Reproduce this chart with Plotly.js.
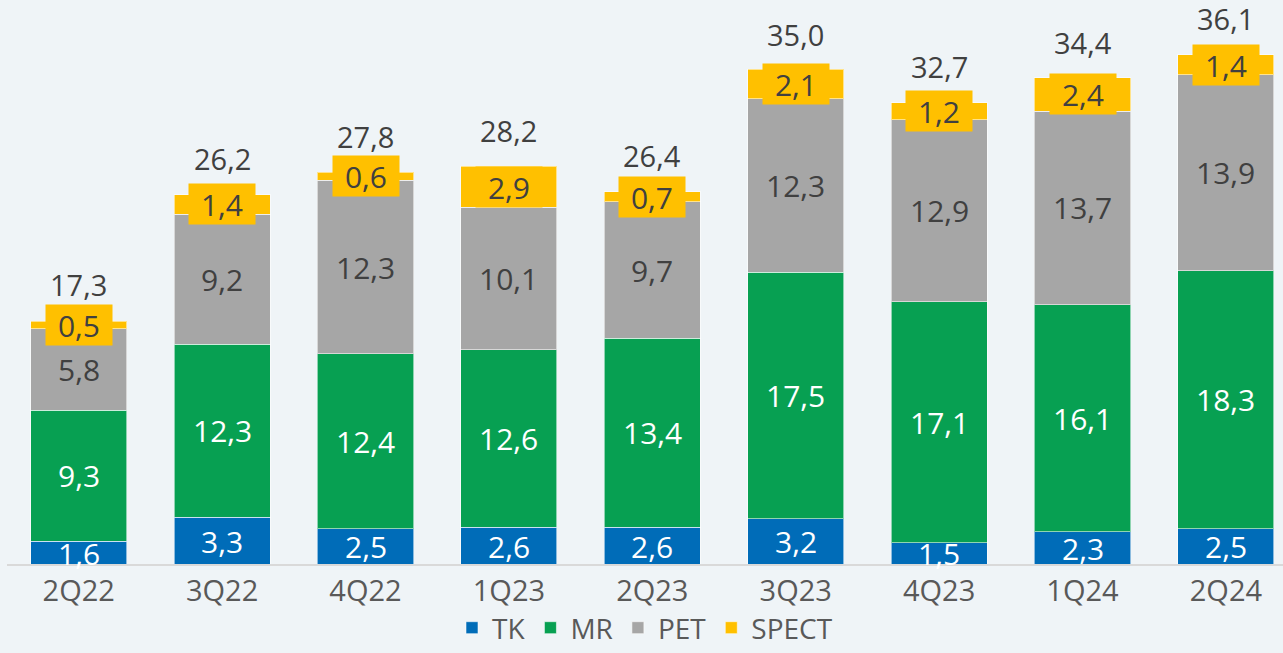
<!DOCTYPE html>
<html>
<head>
<meta charset="utf-8">
<script src="https://cdn.plot.ly/plotly-3.0.1.min.js"></script>
<style>
html,body{margin:0;padding:0;background:#eff4f7;}
#chart{width:1283px;height:653px;}
</style>
</head>
<body>
<div id="chart"></div>
<script>
const categories = ['2Q22','3Q22','4Q22','1Q23','2Q23','3Q23','4Q23','1Q24','2Q24'];
const TK    = [1.6, 3.3, 2.5, 2.6, 2.6, 3.2, 1.5, 2.3, 2.5];
const MR    = [9.3, 12.3, 12.4, 12.6, 13.4, 17.5, 17.1, 16.1, 18.3];
const PET   = [5.8, 9.2, 12.3, 10.1, 9.7, 12.3, 12.9, 13.7, 13.9];
const SPECT = [0.5, 1.4, 0.6, 2.9, 0.7, 2.1, 1.2, 2.4, 1.4];
const totals = [17.3, 26.2, 27.8, 28.2, 26.4, 35.0, 32.7, 34.4, 36.1];

const seriesNames = ['TK','MR','PET','SPECT'];
const seriesVals = [TK, MR, PET, SPECT];
const colors = ['#006cb8','#07a052','#a6a6a6','#ffc000'];
const labelColors = ['#ffffff','#ffffff','#404040','#404040'];
const FONT = 'Open Sans, sans-serif';
const fmt = v => v.toFixed(1).replace('.', ',');

const traces = seriesVals.map((vals, i) => ({
  type: 'bar',
  name: seriesNames[i],
  x: categories,
  y: vals,
  marker: {color: colors[i], line: {color: 'rgba(255,255,255,0.55)', width: 1}},
  hoverinfo: 'skip'
}));

const annotations = [];
categories.forEach((c, j) => {
  let base = 0;
  seriesVals.forEach((vals, i) => {
    const v = vals[j];
    const mid = base + v / 2;
    const a = {
      x: c, y: mid, xref: 'x', yref: 'y',
      text: fmt(v), showarrow: false,
      font: {family: FONT, size: 30, color: labelColors[i]},
      xanchor: 'center', yanchor: 'middle'
    };
    if (i === 0) {
      a.height = 34; a.borderpad = 0;
    }
    if (i === 3) {
      a.bgcolor = '#ffc000';
      a.width = 62; a.height = 36; a.borderpad = 2;
    }
    annotations.push(a);
    base += v;
  });
  annotations.push({
    x: c, y: totals[j], xref: 'x', yref: 'y',
    text: fmt(totals[j]), showarrow: false,
    font: {family: FONT, size: 29, color: '#404040'},
    xanchor: 'center', yanchor: 'middle', yshift: 36
  });
});

const layout = {
  width: 1283, height: 653,
  paper_bgcolor: '#eff4f7', plot_bgcolor: '#eff4f7',
  barmode: 'stack', bargap: 0.33,
  margin: {l: 7, r: 0, t: 0, b: 87},
  font: {family: FONT, color: '#595959'},
  xaxis: {
    type: 'category', range: [-0.5, 8.398],
    showline: true, linecolor: '#d9d9d9', linewidth: 2,
    ticks: '', showgrid: false, zeroline: false,
    tickfont: {family: FONT, size: 29, color: '#595959'},
    automargin: false
  },
  yaxis: {range: [0, 40], visible: false, showgrid: false, zeroline: false, automargin: false},
  showlegend: true,
  legend: {
    orientation: 'h', traceorder: 'normal',
    x: 0.5, xanchor: 'center',
    y: -0.158, yanchor: 'bottom', yref: 'paper',
    font: {family: FONT, size: 28, color: '#595959'},
    bgcolor: 'rgba(0,0,0,0)', itemwidth: 30, tracegroupgap: 0
  },
  annotations: annotations
};

Plotly.newPlot('chart', traces, layout, {displayModeBar: false, staticPlot: true});
</script>
</body>
</html>
